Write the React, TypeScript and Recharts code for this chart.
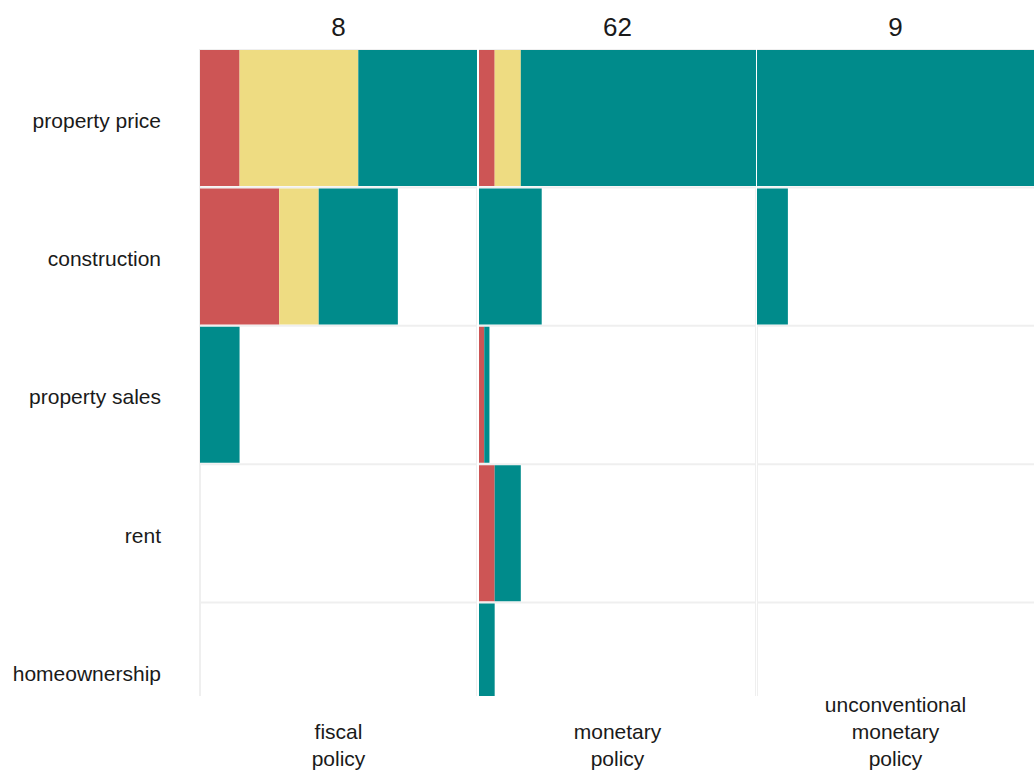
import React from "react";
import { BarChart, Bar, XAxis, YAxis, CartesianGrid } from "recharts";

// rows of the facet grid
const topics = ["property price", "construction", "property sales", "rent", "homeownership"];

// columns: policy type and header count
const policies = ["fiscal\npolicy", "monetary\npolicy", "unconventional\nmonetary\npolicy"];
const counts = ["8", "62", "9"];

// stacked values per topic: negative / mixed / positive
const fiscalNeg = [1, 2, 0, 0, 0];
const fiscalMixed = [3, 1, 0, 0, 0];
const fiscalPos = [3, 2, 1, 0, 0];

const monetaryNeg = [3, 0, 1, 3, 0];
const monetaryMixed = [5, 0, 0, 0, 0];
const monetaryPos = [45, 12, 1, 5, 3];

const unconvNeg = [0, 0, 0, 0, 0];
const unconvMixed = [0, 0, 0, 0, 0];
const unconvPos = [9, 1, 0, 0, 0];

const columns = [
  { neg: fiscalNeg, mixed: fiscalMixed, pos: fiscalPos },
  { neg: monetaryNeg, mixed: monetaryMixed, pos: monetaryPos },
  { neg: unconvNeg, mixed: unconvMixed, pos: unconvPos },
];

const RED = "#CD5555";
const YELLOW = "#EEDC82";
const TEAL = "#008B8B";
const FONT = "'Liberation Sans', Arial, sans-serif";

const TOP = 49;
const ROW_H = 138.4;
const CLIP_H = 647;
const colLeft = [0, 479, 757];
const colWidth = [477, 277, 278];
const plotLeft = [200, 479, 757];

// cell borders at category band edges
const rowEdges = ({ offset }: any) =>
  topics.map((_, i) => offset.top + (i * offset.height) / topics.length).concat(offset.top + offset.height);
const colEdges = ({ offset }: any) => [offset.left, offset.left + offset.width];

function PolicyChart({ idx }: { idx: number }) {
  const c = columns[idx];
  const data = topics.map((t, i) => ({ topic: t, neg: c.neg[i], mixed: c.mixed[i], pos: c.pos[i] }));
  const max = Math.max(...data.map((d) => d.neg + d.mixed + d.pos));
  const first = idx === 0;
  return (
    <div style={{ position: "absolute", left: colLeft[idx], top: TOP, width: colWidth[idx], height: CLIP_H, overflow: "hidden" }}>
      <BarChart
        width={colWidth[idx]}
        height={ROW_H * 5}
        data={data}
        layout="vertical"
        margin={{ top: 0, right: 0, bottom: 0, left: 0 }}
        barCategoryGap={1}
      >
        <CartesianGrid
          stroke="#efefef"
          strokeWidth={2}
          horizontalCoordinatesGenerator={rowEdges}
          verticalCoordinatesGenerator={colEdges}
        />
        <XAxis type="number" hide domain={[0, max]} />
        <YAxis
          type="category"
          dataKey="topic"
          hide={!first}
          width={first ? 200 : 0}
          axisLine={false}
          tickLine={false}
          tickSize={0}
          tickMargin={39}
          tick={{ fill: "#1a1a1a", fontSize: 21, fontFamily: FONT, dy: 2 }}
        />
        <Bar dataKey="neg" stackId="a" fill={RED} isAnimationActive={false} />
        <Bar dataKey="mixed" stackId="a" fill={YELLOW} isAnimationActive={false} />
        <Bar dataKey="pos" stackId="a" fill={TEAL} isAnimationActive={false} />
      </BarChart>
    </div>
  );
}

export default function App() {
  return (
    <div style={{ position: "absolute", left: 0, top: 0, width: 1034, height: 776, background: "#fff", fontFamily: FONT, color: "#1a1a1a", overflow: "hidden" }}>
      {counts.map((n, i) => (
        <div key={n + i} style={{ position: "absolute", left: plotLeft[i] - 1, top: 11, width: 279, textAlign: "center", fontSize: 26, lineHeight: "32px" }}>
          {n}
        </div>
      ))}
      {[0, 1, 2].map((i) => (
        <PolicyChart key={i} idx={i} />
      ))}
      {policies.map((p, i) => (
        <div key={p} style={{ position: "absolute", left: plotLeft[i] - 1, bottom: 4, width: 279, textAlign: "center", fontSize: 21, lineHeight: "27px", whiteSpace: "pre-line" }}>
          {p}
        </div>
      ))}
    </div>
  );
}
